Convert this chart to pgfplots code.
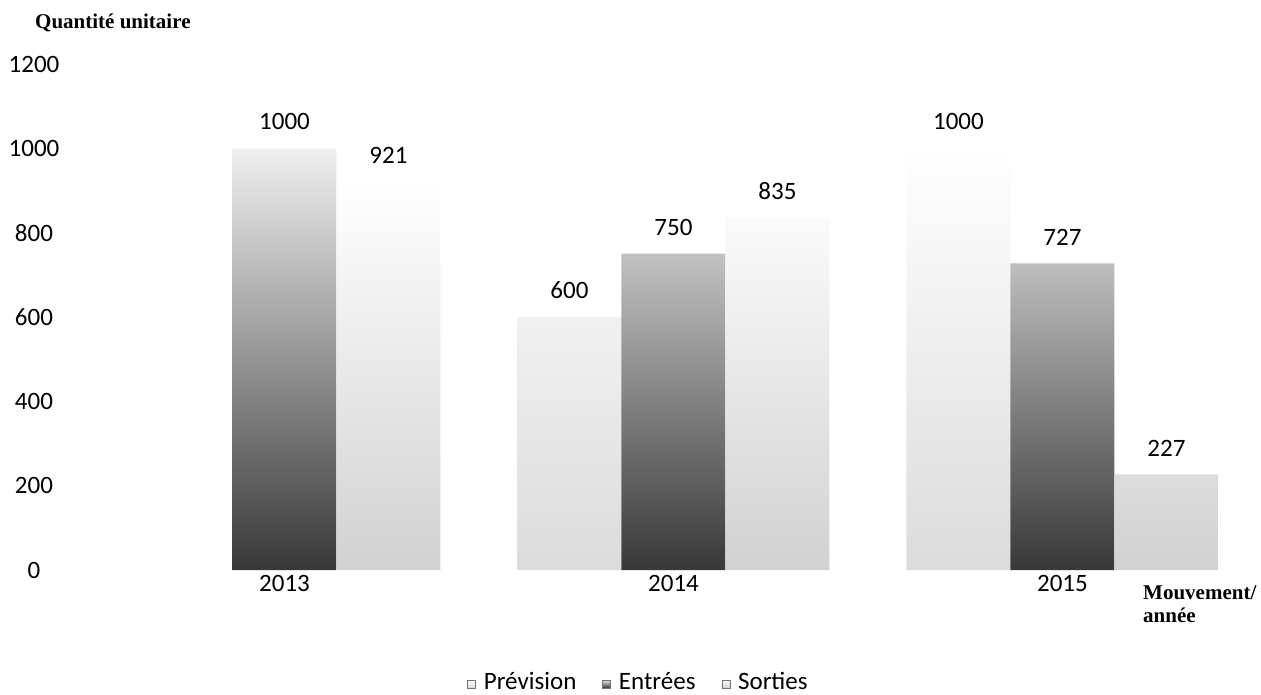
\documentclass[border=0pt]{standalone}
\usepackage{pgfplots}
\pgfplotsset{compat=1.18}
\usepackage{fontspec}
\setmainfont{Carlito}
\newfontfamily\titlefont{Liberation Serif}

\begin{document}
\begin{tikzpicture}[font=\fontsize{25}{30}\selectfont]
\useasboundingbox (0,0) rectangle (1261pt,694pt);
\begin{axis}[
  at={(90pt,124pt)}, anchor=south west,
  scale only axis, width=1167pt, height=506pt,
  xmin=-0.5, xmax=2.5, ymin=0, ymax=1200,
  ybar=0pt, bar width=104pt,
  xtick={0,1,2}, xticklabels={2013,2014,2015},
  ytick={0,200,...,1200},
  axis line style={draw=none}, major tick length=0pt,
  /pgf/number format/assume math mode=true,
  /pgf/number format/1000 sep={},
  yticklabel style={anchor=center, xshift=-56pt},
  xticklabel style={anchor=north, yshift=-2pt},
  nodes near coords,
  nodes near coords style={anchor=south, inner sep=0pt, yshift=18pt, text=black},
  legend style={at={(axis description cs:0.470,-0.221)}, anchor=center,
    draw=none, fill=none, legend columns=-1,
    /tikz/every odd column/.append style={column sep=6pt},
    /tikz/every even column/.append style={column sep=24pt}},
  legend image code/.code={\draw[#1, draw=black!55, line width=0.6pt] (0pt,-6pt) rectangle (8pt,2pt);},
]
% Prévision (no value for 2013)
\addplot[draw=none, bottom color=black!14, top color=white] coordinates {(1,600) (2,1000)};
% Entrées
\addplot[draw=none, bottom color=black!78, top color=black!6] coordinates {(0,1000) (1,750) (2,727)};
% Sorties
\addplot[draw=none, bottom color=black!18, top color=white] coordinates {(0,921) (1,835) (2,227)};
\legend{Prévision, Entrées, Sorties}
\end{axis}
\node[anchor=base west, inner sep=0pt, font=\titlefont\bfseries\fontsize{21}{25}\selectfont]
  at (35pt,665pt) {Quantité unitaire};
\node[anchor=north west, align=left, inner sep=0pt, font=\titlefont\bfseries\fontsize{21}{23}\selectfont]
  at (1143pt,109pt) {Mouvement/\\année};
\end{tikzpicture}
\end{document}
